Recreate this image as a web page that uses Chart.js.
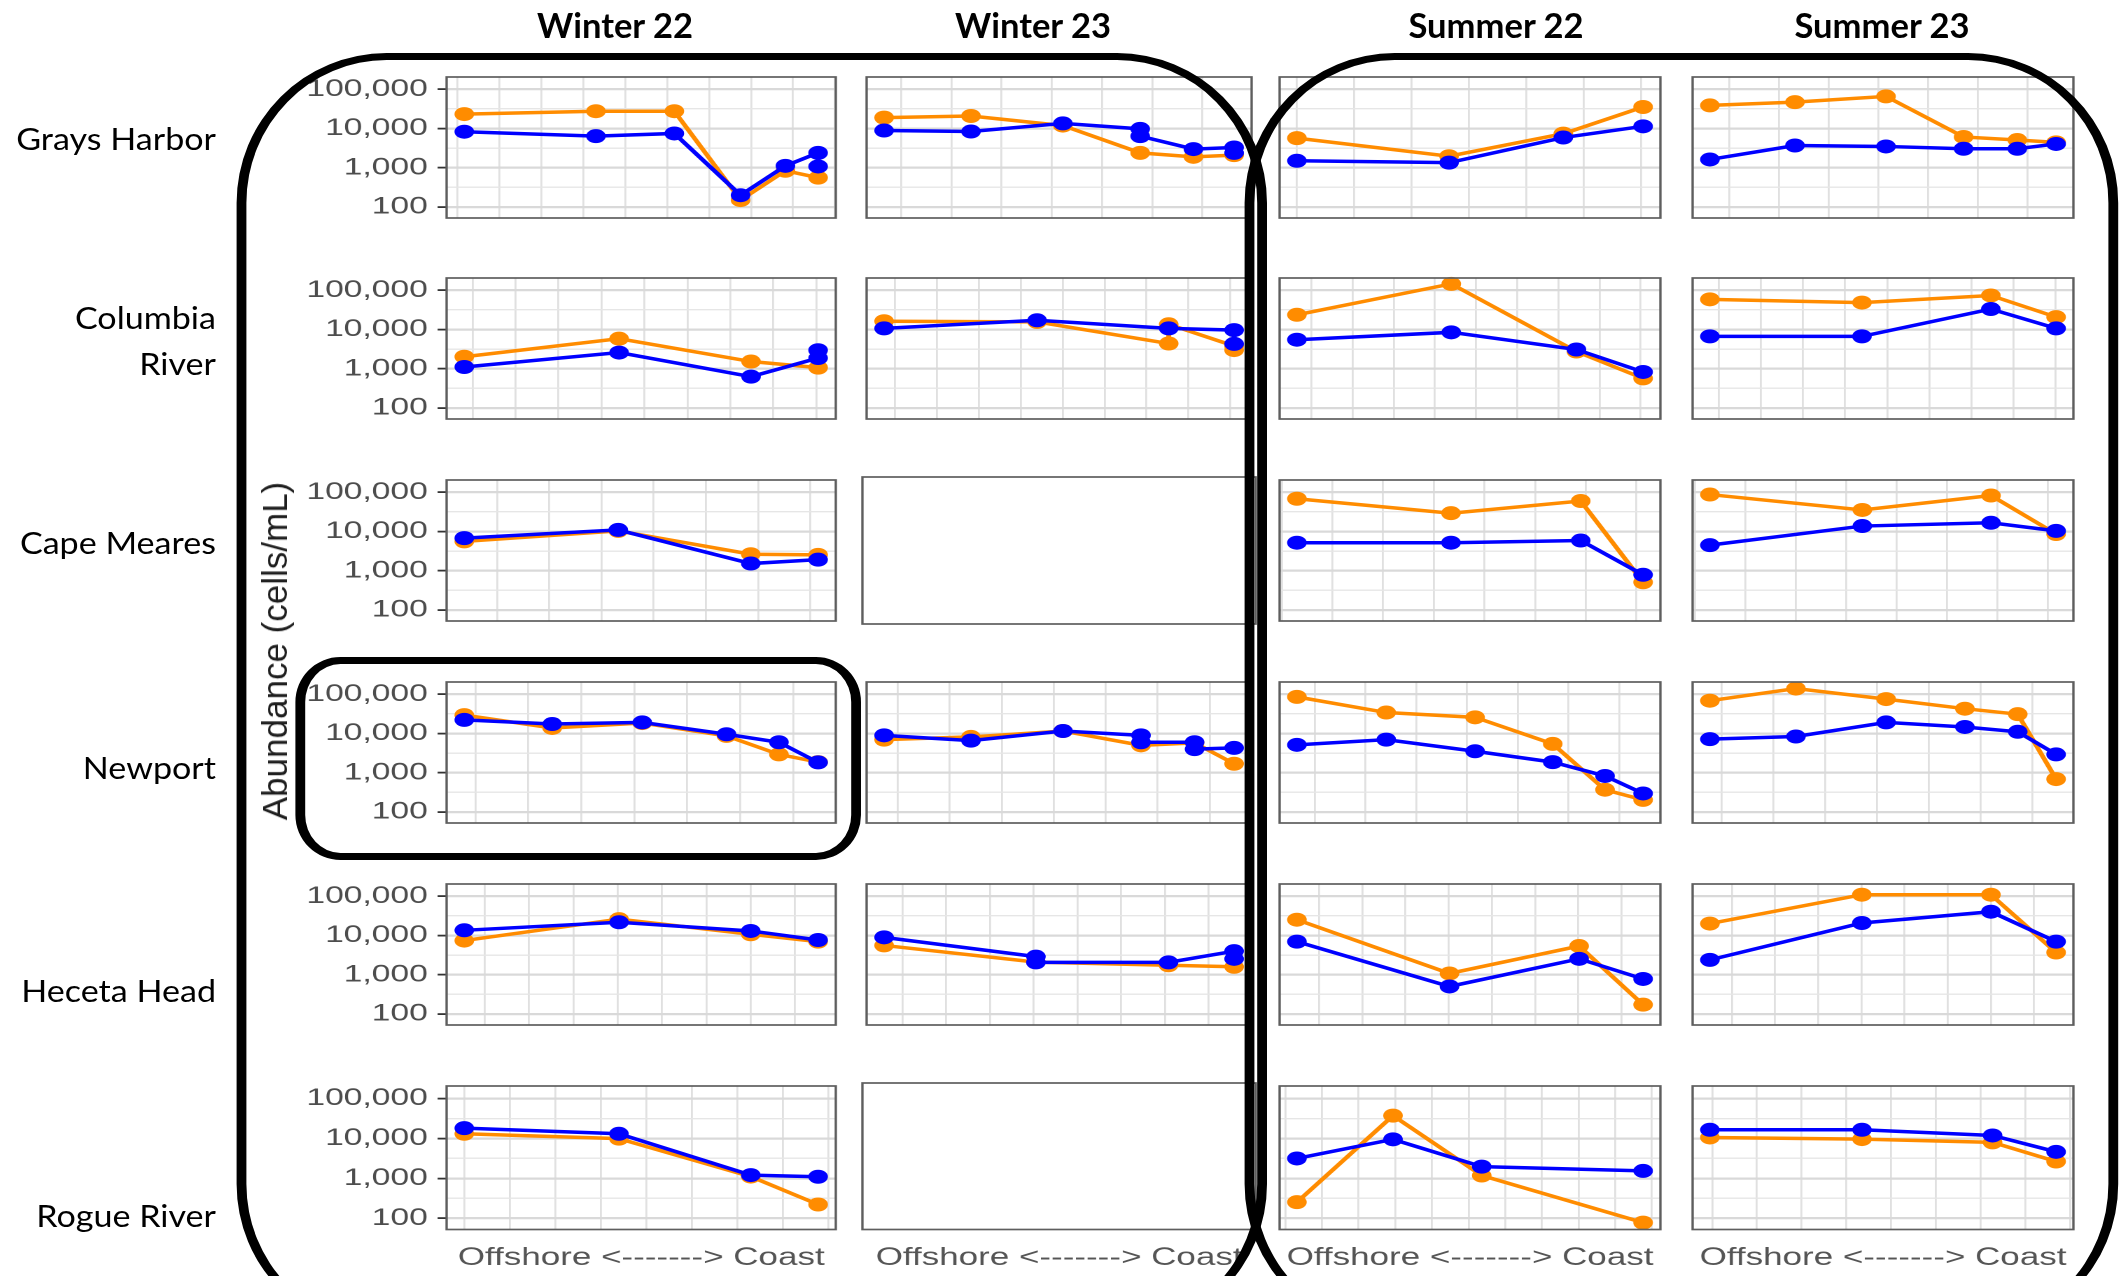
<!DOCTYPE html>
<html>
<head>
<meta charset="utf-8">
<script src="https://cdn.jsdelivr.net/npm/chart.js@4.4.1/dist/chart.umd.min.js"></script>
<style>
  html, body { margin: 0; padding: 0; background: #fff; width: 2121px; height: 1276px; overflow: hidden; }
  .layer { position: absolute; left: 0; top: 0; height: 1276px; transform-origin: 0 0; }
  .layer canvas { position: absolute; }
  .lbl { position: absolute; white-space: pre; color: #000; font-family: Lato, 'Open Sans', sans-serif; }
  .box { position: absolute; box-sizing: border-box; border: 7px solid #000; pointer-events: none; }
  #ytitle { position: absolute; white-space: nowrap; font-family: 'Liberation Sans', Arial, sans-serif;
            font-size: 35px; color: #1e1e1e; transform: translate(-50%, -50%) rotate(-90deg); }
</style>
</head>
<body>
<div id="stage" class="layer"></div>
<div id="ytitle">Abundance (cells/mL)</div>
<div id="overlay" class="layer"></div>
<script>
// ---- labels ----
const SITES = ['Grays Harbor', 'Columbia\nRiver', 'Cape Meares', 'Newport', 'Heceta Head', 'Rogue River'];
const SEASONS = ['Winter 22', 'Winter 23', 'Summer 22', 'Summer 23'];
const X_TITLE = 'Offshore <-------> Coast';
const Y_TICKS = [100, 1000, 10000, 100000];

// ---- abundance (cells/mL) per station; x = cross-shelf station position ----
const graysW22Orange = [[0.16, 23400], [3.30, 27700], [5.17, 27700], [6.75, 150], [7.82, 840], [8.60, 560]];
const graysW22Blue   = [[0.16, 8300], [3.30, 6400], [5.17, 7500], [6.75, 200], [7.82, 1120], [8.60, 2400], [8.60, 1080]];
const graysW23Orange = [[0.66, 19000], [2.39, 20900], [4.22, 11900], [5.76, 2400], [6.82, 1900], [7.63, 2100]];
const graysW23Blue   = [[0.66, 8900], [2.39, 8400], [4.22, 13500], [5.76, 9800], [5.76, 6400], [6.82, 3000], [7.63, 3300], [7.63, 2400]];
const graysS22Orange = [[0, 5700], [2.65, 1970], [4.64, 7400], [6.03, 35400]];
const graysS22Blue   = [[0, 1510], [2.65, 1350], [4.64, 5900], [6.03, 11400]];
const graysS23Orange = [[0.61, 38900], [2.32, 47000], [4.15, 66000], [5.71, 6100], [6.79, 5100], [7.57, 4450]];
const graysS23Blue   = [[0.61, 1630], [2.32, 3700], [4.15, 3500], [5.71, 3050], [6.79, 3050], [7.57, 4050]];

const columbiaW22Orange = [[0.81, 2030], [4.41, 5850], [7.48, 1530], [9.04, 1070]];
const columbiaW22Blue   = [[0.81, 1110], [4.41, 2590], [7.48, 630], [9.04, 1880], [9.04, 2970]];
const columbiaW23Orange = [[0.74, 16300], [4.39, 15700], [7.53, 4400], [7.53, 13600], [9.09, 3800], [9.09, 3000]];
const columbiaW23Blue   = [[0.74, 10700], [4.39, 17200], [7.53, 10700], [9.09, 9700], [9.09, 4300]];
const columbiaS22Orange = [[0.65, 23800], [4.40, 146000], [7.44, 2750], [9.06, 570]];
const columbiaS22Blue   = [[0.65, 5500], [4.40, 8500], [7.44, 3100], [9.06, 830]];
const columbiaS23Orange = [[0.79, 58900], [4.40, 48700], [7.46, 73900], [9.01, 20800]];
const columbiaS23Blue   = [[0.79, 6700], [4.40, 6700], [7.46, 33300], [9.01, 10700]];

const capeW22Orange = [[0.37, 5600], [3.32, 10400], [5.86, 2640], [7.15, 2550]];
const capeW22Blue   = [[0.37, 6800], [3.32, 11000], [5.86, 1530], [7.15, 1920]];
const capeS22Orange = [[0.30, 68500], [3.34, 29400], [5.90, 60100], [7.13, 510]];
const capeS22Blue   = [[0.30, 5200], [3.34, 5200], [5.90, 5900], [7.13, 790]];
const capeS23Orange = [[0.30, 87700], [3.32, 35500], [5.87, 82800], [7.16, 8650]];
const capeS23Blue   = [[0.30, 4500], [3.32, 13800], [5.87, 16700], [7.16, 10400]];

const newportW22Orange = [[0.79, 29500], [2.45, 13900], [4.15, 18500], [5.74, 8700], [6.73, 2940], [7.47, 1870]];
const newportW22Blue   = [[0.79, 22300], [2.45, 17500], [4.15, 19200], [5.74, 9600], [6.73, 6000], [7.47, 1840]];
const newportW23Orange = [[0.74, 7000], [2.41, 8200], [4.18, 11600], [5.68, 5000], [6.71, 5800], [7.47, 1700]];
const newportW23Blue   = [[0.74, 9000], [2.41, 6600], [4.18, 11600], [5.68, 9000], [5.68, 6000], [6.71, 6000], [6.71, 4000], [7.47, 4300]];
const newportS22Orange = [[0.65, 86100], [2.41, 34300], [4.16, 25900], [5.69, 5450], [6.72, 370], [7.47, 204]];
const newportS22Blue   = [[0.65, 5150], [2.41, 7000], [4.16, 3540], [5.69, 1870], [6.72, 830], [7.47, 297]];
const newportS23Orange = [[0.78, 68700], [2.44, 140000], [4.18, 75500], [5.70, 43000], [6.72, 31200], [7.46, 690]];
const newportS23Blue   = [[0.78, 7200], [2.44, 8400], [4.18, 19200], [5.70, 14700], [6.72, 11100], [7.46, 2940]];

const hecetaW22Orange = [[0.54, 7450], [4.03, 26200], [7.00, 10800], [8.52, 7000]];
const hecetaW22Blue   = [[0.54, 13600], [4.03, 21800], [7.00, 13100], [8.52, 7700]];
const hecetaW23Orange = [[0.58, 5600], [4.05, 2100], [7.08, 1750], [8.58, 1600]];
const hecetaW23Blue   = [[0.58, 9000], [4.05, 2900], [4.05, 2070], [7.08, 2070], [8.58, 4000], [8.58, 2550]];
const hecetaS22Orange = [[0.49, 25300], [4.02, 1080], [7.02, 5400], [8.50, 173]];
const hecetaS22Blue   = [[0.49, 7000], [4.02, 504], [7.02, 2550], [8.50, 783]];
const hecetaS23Orange = [[0.49, 20200], [4.01, 110000], [7.00, 110000], [8.51, 3700]];
const hecetaS23Blue   = [[0.49, 2400], [4.01, 20900], [7.00, 40500], [8.51, 7000]];

const rogueW22Orange = [[0, 13100], [3.40, 9900], [6.30, 1110], [7.78, 222]];
const rogueW22Blue   = [[0, 18100], [3.40, 13100], [6.30, 1210], [7.78, 1100]];
const rogueS22Orange = [[0.32, 254], [2.94, 37300], [5.36, 1180], [9.76, 78]];
const rogueS22Blue   = [[0.32, 3160], [2.94, 9500], [5.36, 1970], [9.76, 1540]];
const rogueS23Orange = [[0.95, 10600], [4.35, 9640], [7.27, 7970], [8.69, 2650]];
const rogueS23Blue   = [[0.95, 16500], [4.35, 16500], [7.27, 11900], [8.69, 4630]];

// facet grid: rows = sites, columns = seasons (null = no sampling)
const PANELS = [
  [[graysW22Orange, graysW22Blue], [graysW23Orange, graysW23Blue], [graysS22Orange, graysS22Blue], [graysS23Orange, graysS23Blue]],
  [[columbiaW22Orange, columbiaW22Blue], [columbiaW23Orange, columbiaW23Blue], [columbiaS22Orange, columbiaS22Blue], [columbiaS23Orange, columbiaS23Blue]],
  [[capeW22Orange, capeW22Blue], null, [capeS22Orange, capeS22Blue], [capeS23Orange, capeS23Blue]],
  [[newportW22Orange, newportW22Blue], [newportW23Orange, newportW23Blue], [newportS22Orange, newportS22Blue], [newportS23Orange, newportS23Blue]],
  [[hecetaW22Orange, hecetaW22Blue], [hecetaW23Orange, hecetaW23Blue], [hecetaS22Orange, hecetaS22Blue], [hecetaS23Orange, hecetaS23Blue]],
  [[rogueW22Orange, rogueW22Blue], null, [rogueS22Orange, rogueS22Blue], [rogueS23Orange, rogueS23Blue]]
];

// ---- page geometry (page pixels; the plot grid is drawn narrow and widened by S) ----
const S = 1.4;
const PAGE_W = 2121;
const COL_LEFT = [447, 862, 1275, 1688];
const COL_WIDTH = [393, 393, 389, 389];
const ROW_TOP0 = 73.5, ROW_PITCH = 201.9, PANEL_H = 146.5;
const Y_MIN = 52.5, Y_MAX = 206000;
const HEADER_X = [615, 1033, 1496, 1882];
const HEADER_Y = 24;
const HEADER_W = 156;          // drawn width of "Winter 22"
const ROW_LABEL_RIGHT = 216;
const ROW_LABEL_Y = [138, 340, 542, 767, 990, 1215];
const ROW_LABEL_W = 200;       // drawn width of "Grays Harbor"

const ORANGE = '#FF8C00';
const BLUE = '#0000FF';
const FONT = "'Liberation Sans', Arial, Helvetica, sans-serif";

const stage = document.getElementById('stage');
const overlay = document.getElementById('overlay');
[stage, overlay].forEach(el => {
  el.style.width = (PAGE_W / S) + 'px';
  el.style.transform = `scaleX(${S})`;
});

Chart.defaults.font.family = FONT;
Chart.defaults.animation = false;

// panel border drawn over the plotted data, like a ggplot panel.border
const panelFrame = {
  id: 'panelFrame',
  afterDatasetsDraw(chart) {
    const { ctx, chartArea: a } = chart;
    ctx.save();
    ctx.strokeStyle = '#5e5e5e';
    ctx.lineWidth = 1.7;
    ctx.strokeRect(a.left, a.top, a.right - a.left, a.bottom - a.top);
    ctx.restore();
  }
};

const Y_GRID = [100, Math.pow(10, 2.5), 1000, Math.pow(10, 3.5), 10000, Math.pow(10, 4.5), 100000];
const isMajor = v => Y_TICKS.some(t => Math.abs(t - v) / t < 1e-6);

function seriesDataset(points, color, order) {
  return {
    data: points.map(([x, y]) => ({ x, y })),
    borderColor: color,
    backgroundColor: color,
    pointBackgroundColor: color,
    borderWidth: 3.5,
    pointRadius: 7,
    pointHoverRadius: 7,
    pointBorderWidth: 0,
    tension: 0,
    clip: false,
    order
  };
}

function noPad(ax) {
  ax.paddingTop = 0; ax.paddingBottom = 0; ax.paddingLeft = 0; ax.paddingRight = 0;
}

function makePanel(r, c, series) {
  const pad = 4;
  const extraL = c === 0 ? 120 : 0;
  const extraB = r === PANELS.length - 1 ? 43.5 : 0;
  const pl = COL_LEFT[c] / S, pw = COL_WIDTH[c] / S;
  const pt = ROW_TOP0 + r * ROW_PITCH;
  const w = Math.round(pw + extraL + 2 * pad);
  const h = Math.round(PANEL_H + extraB + 2 * pad);
  const cv = document.createElement('canvas');
  cv.width = w; cv.height = h;
  cv.style.left = (pl - extraL - pad) + 'px';
  cv.style.top = (pt - pad) + 'px';
  stage.appendChild(cv);

  let xMin = 0, xMax = 1, xGrid = [];
  if (series) {
    const xs = series.flat().map(p => p[0]);
    const lo = Math.min(...xs), hi = Math.max(...xs), span = hi - lo;
    xMin = lo - 0.05 * span;
    xMax = hi + 0.05 * span;
    for (let v = Math.ceil(xMin); v <= Math.floor(xMax); v++) xGrid.push(v);
  }

  new Chart(cv, {
    type: 'line',
    data: {
      datasets: series ? [seriesDataset(series[0], ORANGE, 1), seriesDataset(series[1], BLUE, 0)] : []
    },
    options: {
      responsive: false,
      devicePixelRatio: 2,
      events: [],
      layout: { padding: { left: pad, right: pad, top: pad, bottom: pad } },
      plugins: { legend: { display: false }, tooltip: { enabled: false } },
      scales: {
        x: {
          type: 'linear',
          min: xMin, max: xMax,
          border: { display: false },
          grid: { display: !!series, color: '#e0e0e0', lineWidth: 1.4, drawTicks: false },
          ticks: { display: false },
          afterBuildTicks: ax => { ax.ticks = xGrid.map(v => ({ value: v })); },
          afterFit: ax => { ax.height = extraB; noPad(ax); },
          title: {
            display: extraB > 0,
            text: X_TITLE,
            color: '#555555',
            font: { size: 25, family: FONT },
            padding: { top: 0, bottom: 0 }
          }
        },
        y: {
          type: 'logarithmic',
          min: Y_MIN, max: Y_MAX,
          border: { display: false },
          grid: {
            display: !!series,
            color: ctx => isMajor(ctx.tick.value) ? '#d9d9d9' : '#e6e6e6',
            lineWidth: ctx => isMajor(ctx.tick.value) ? 2.2 : 1.4,
            drawTicks: c === 0,
            tickLength: 6.4,
            tickWidth: 1.8,
            tickColor: ctx => isMajor(ctx.tick.value) ? '#333333' : 'rgba(0,0,0,0)'
          },
          ticks: {
            display: c === 0,
            autoSkip: false,
            padding: 7,
            color: '#4d4d4d',
            font: { size: 24, family: FONT },
            callback: v => isMajor(v) ? Math.round(v).toLocaleString('en-US') : ''
          },
          afterBuildTicks: ax => { ax.ticks = Y_GRID.map(v => ({ value: v })); },
          afterFit: ax => { ax.width = extraL; noPad(ax); }
        }
      }
    },
    plugins: [panelFrame]
  });
}

// text labels set at page scale; a horizontal factor keeps their drawn widths
function addLabel(text, opts) {
  const d = document.createElement('div');
  d.className = 'lbl';
  d.textContent = text;
  Object.assign(d.style, opts.style);
  document.body.appendChild(d);
  return d;
}

const headerEls = SEASONS.map((s, i) => addLabel(s, { style: {
  fontWeight: '700', fontSize: '35px', left: HEADER_X[i] + 'px', top: HEADER_Y + 'px'
}}));
const hk = HEADER_W / headerEls[0].offsetWidth;
headerEls.forEach(d => {
  d.style.transformOrigin = '50% 50%';
  d.style.transform = `translate(-50%, -50%) scaleX(${hk})`;
});

const rowEls = SITES.map((s, i) => addLabel(s, { style: {
  fontSize: '30px', lineHeight: '46px', textAlign: 'right',
  left: ROW_LABEL_RIGHT + 'px', top: ROW_LABEL_Y[i] + 'px'
}}));
const rk = ROW_LABEL_W / rowEls[0].offsetWidth;
rowEls.forEach(d => {
  d.style.transformOrigin = '100% 50%';
  d.style.transform = `translate(-100%, -50%) scaleX(${rk})`;
});

// shared y-axis title
const yt = document.getElementById('ytitle');
yt.style.left = '275px';
yt.style.top = '651px';

PANELS.forEach((row, r) => row.forEach((series, c) => makePanel(r, c, series)));

// rounded outlines grouping the winter and summer surveys and the Newport winter panel
const OUTLINES = [
  { l: 242, t: 56, r: 1262, b: 1330, rx: 150, ry: 150 },
  { l: 1250, t: 56, r: 2113, b: 1330, rx: 150, ry: 150 },
  { l: 300, t: 660, r: 856, b: 856, rx: 45, ry: 45 }
];
OUTLINES.forEach(o => {
  const d = document.createElement('div');
  d.className = 'box';
  const bw = 7;
  d.style.left = (o.l / S - bw / 2) + 'px';
  d.style.top = (o.t - bw / 2) + 'px';
  d.style.width = ((o.r - o.l) / S + bw) + 'px';
  d.style.height = (o.b - o.t + bw) + 'px';
  d.style.borderRadius = `${o.rx / S}px / ${o.ry}px`;
  overlay.appendChild(d);
});
document.body.appendChild(overlay);
</script>
</body>
</html>
